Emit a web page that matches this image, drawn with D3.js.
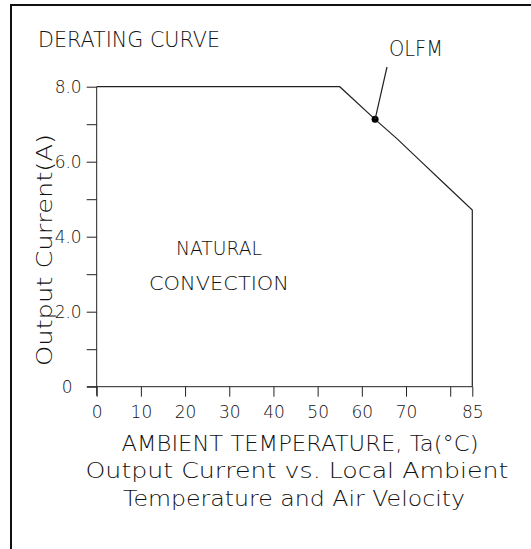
<!DOCTYPE html>
<html>
<head>
<meta charset="utf-8">
<script src="https://cdn.jsdelivr.net/npm/d3@7"></script>
<style>
html,body{margin:0;padding:0;background:#fff;}
svg{display:block;}
text{font-family:"DejaVu Sans",sans-serif;font-weight:200;fill:#111;}
</style>
</head>
<body>
<svg id="chart" width="531" height="549"></svg>
<script>
// ---- data ----
const temperature = [0, 55, 63, 68, 73, 79, 85, 85];
const outputCurrent = [8.0, 8.0, 7.13, 6.61, 6.05, 5.38, 4.71, 0];
const markerTemp = [63];
const markerCurrent = [7.13];
const xTickValues = [0, 10, 20, 30, 40, 50, 60, 70, 80, 85];
const xTickLabels = ["0", "10", "20", "30", "40", "50", "60", "70", "", "85"];
const yTickValues = [0, 1, 2, 3, 4, 5, 6, 7, 8];
const yTickLabels = ["0", "", "2.0", "", "4.0", "", "6.0", "", "8.0"];
const titleText = "DERATING CURVE";
const seriesLabel = "OLFM";
const regionLabel = ["NATURAL", "CONVECTION"];
const xTitle = "AMBIENT TEMPERATURE, Ta(°C)";
const yTitle = "Output Current(A)";
const caption = ["Output Current vs. Local Ambient", "Temperature and Air Velocity"];

const svg = d3.select("#chart");
const x = d3.scaleLinear().domain([0, 85]).range([96.7, 472.3]);
const y = d3.scaleLinear().domain([0, 8]).range([386.7, 86.7]);

// frame
svg.append("path").attr("d", "M11,549 V5 H531")
  .attr("fill", "none").attr("stroke", "#111").attr("stroke-width", 2);

// x axis
const xAxis = d3.axisBottom(x).tickValues(xTickValues)
  .tickFormat((d, i) => xTickLabels[i]).tickSize(10).tickPadding(9);
const gx = svg.append("g").attr("transform", `translate(0,${y(0)})`).call(xAxis);
gx.select(".domain").remove();
gx.append("line").attr("x1", 87).attr("x2", x(85)).attr("stroke", "#222");
gx.selectAll(".tick line").attr("stroke", "#222");
gx.selectAll(".tick text").attr("font-size", 17).attr("fill", "#111")
  .style("font-family", "DejaVu Sans").style("font-weight", 200);

// y axis
const yAxis = d3.axisLeft(y).tickValues(yTickValues)
  .tickFormat((d, i) => yTickLabels[i]).tickSize(10).tickPadding(5);
const gy = svg.append("g").attr("transform", `translate(${x(0)},0)`).call(yAxis);
gy.select(".domain").remove();
gy.append("line").attr("y1", y(8)).attr("y2", y(0) + 9).attr("stroke", "#222");
gy.selectAll(".tick line").attr("stroke", "#222");
gy.selectAll(".tick text").attr("font-size", 17).attr("fill", "#111")
  .style("font-family", "DejaVu Sans").style("font-weight", 200)
  .attr("x", d => d === 0 ? -24 : -15);

// curve
const line = d3.line().x((d, i) => x(temperature[i])).y((d, i) => y(outputCurrent[i]));
svg.append("path").datum(temperature).attr("d", line)
  .attr("fill", "none").attr("stroke", "#222").attr("stroke-width", 1.2);

// marker + leader
svg.selectAll("circle.m").data(markerTemp).enter().append("circle")
  .attr("cx", d => x(d)).attr("cy", (d, i) => y(markerCurrent[i])).attr("r", 3.5).attr("fill", "#000");
svg.append("line").attr("x1", x(markerTemp[0])).attr("y1", y(markerCurrent[0]))
  .attr("x2", 387).attr("y2", 67).attr("stroke", "#222").attr("stroke-width", 1.2);

// texts
function txt(s, xx, yy, size, anchor, len) {
  const t = svg.append("text").attr("x", xx).attr("y", yy).attr("font-size", size)
    .attr("text-anchor", anchor || "start").text(s);
  if (len) t.attr("textLength", len).attr("lengthAdjust", "spacingAndGlyphs");
  return t;
}
txt(titleText, 38, 47, 21, "start", 182);
txt(seriesLabel, 389, 56, 22, "start", 54);
txt(regionLabel[0], 219, 255, 20, "middle", 86);
txt(regionLabel[1], 219, 290, 20, "middle", 140);
txt(xTitle, 300, 451, 21, "middle", 357);
txt(caption[0], 297, 478, 21, "middle", 423);
txt(caption[1], 294, 506, 21, "middle", 342);
svg.append("text").attr("transform", "translate(52,250) rotate(-90)")
  .attr("text-anchor", "middle").attr("font-size", 21).attr("textLength", 232)
  .attr("lengthAdjust", "spacingAndGlyphs").text(yTitle);
</script>
</body>
</html>
